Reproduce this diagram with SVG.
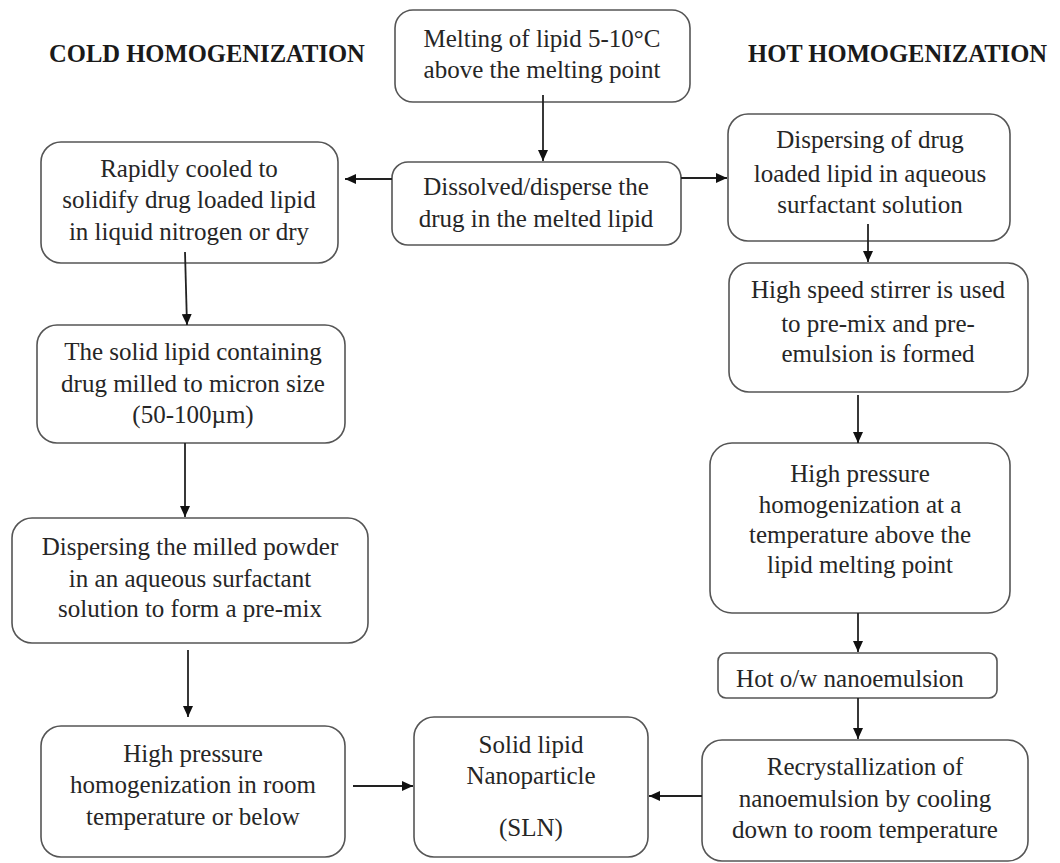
<svg xmlns="http://www.w3.org/2000/svg" width="1060" height="863" viewBox="0 0 1060 863">
<style>
.box{fill:#fff;stroke:#555;stroke-width:1.6}
.t{font-family:"Liberation Serif","Times New Roman",Tinos,"DejaVu Serif",serif;font-size:25px;font-weight:400;fill:#262626;text-anchor:middle}
.h{font-family:"Liberation Serif","Times New Roman",Tinos,"DejaVu Serif",serif;font-size:24.6px;font-weight:bold;fill:#1a1a1a}
.c{stroke:#222;stroke-width:1.8;fill:none;marker-end:url(#ah)}
</style>
<defs>
<marker id="ah" markerUnits="userSpaceOnUse" markerWidth="12" markerHeight="10" refX="11" refY="5" orient="auto">
<path d="M0,0 L11,5 L0,10 z" fill="#111"/>
</marker>
</defs>
<rect width="1060" height="863" fill="#fff"/>
<g id="title-cold"><text class="h" x="49" y="62">COLD HOMOGENIZATION</text></g>
<g id="title-hot"><text class="h" x="748" y="62">HOT HOMOGENIZATION</text></g>

<g id="melting"><rect class="box" x="395" y="10" width="295" height="92" rx="18"/>
<text class="t" x="542" y="47">Melting of lipid 5-10°C</text>
<text class="t" x="542" y="78">above the melting point</text></g>

<g id="dissolved"><rect class="box" x="392" y="162" width="289" height="83" rx="16"/>
<text class="t" x="536" y="195">Dissolved/disperse the</text>
<text class="t" x="536" y="227">drug in the melted lipid</text></g>

<g id="rapidly"><rect class="box" x="41" y="142" width="297" height="121" rx="20"/>
<text class="t" x="189" y="177">Rapidly cooled to</text>
<text class="t" x="189" y="208">solidify drug loaded lipid</text>
<text class="t" x="189" y="240">in liquid nitrogen or dry</text></g>

<g id="solid"><rect class="box" x="37" y="325" width="308" height="118" rx="20"/>
<text class="t" x="193" y="360">The solid lipid containing</text>
<text class="t" x="193" y="392">drug milled to micron size</text>
<text class="t" x="193" y="423">(50-100µm)</text></g>

<g id="dispersing-milled"><rect class="box" x="12" y="518" width="356" height="125" rx="20"/>
<text class="t" x="190" y="555">Dispersing the milled powder</text>
<text class="t" x="190" y="587">in an aqueous surfactant</text>
<text class="t" x="190" y="617">solution to form a pre-mix</text></g>

<g id="hp-cold"><rect class="box" x="41" y="726" width="304" height="131" rx="20"/>
<text class="t" x="193" y="762">High pressure</text>
<text class="t" x="193" y="793">homogenization in room</text>
<text class="t" x="193" y="825">temperature or below</text></g>

<g id="sln"><rect class="box" x="414" y="717" width="234" height="140" rx="20"/>
<text class="t" x="531" y="753">Solid lipid</text>
<text class="t" x="531" y="784">Nanoparticle</text>
<text class="t" x="531" y="836">(SLN)</text></g>

<g id="dispersing-drug"><rect class="box" x="728" y="114" width="282" height="127" rx="20"/>
<text class="t" x="870" y="148">Dispersing of drug</text>
<text class="t" x="870" y="182">loaded lipid in aqueous</text>
<text class="t" x="870" y="213">surfactant solution</text></g>

<g id="stirrer"><rect class="box" x="729" y="263" width="299" height="129" rx="20"/>
<text class="t" x="878" y="298">High speed stirrer is used</text>
<text class="t" x="878" y="332">to pre-mix and pre-</text>
<text class="t" x="878" y="362">emulsion is formed</text></g>

<g id="hp-hot"><rect class="box" x="710" y="443" width="300" height="170" rx="22"/>
<text class="t" x="860" y="482">High pressure</text>
<text class="t" x="860" y="513">homogenization at a</text>
<text class="t" x="860" y="543">temperature above the</text>
<text class="t" x="860" y="573">lipid melting point</text></g>

<g id="nanoemulsion"><rect class="box" x="718" y="653" width="279" height="45" rx="8"/>
<text class="t" x="850" y="687">Hot o/w nanoemulsion</text></g>

<g id="recryst"><rect class="box" x="702" y="740" width="326" height="121" rx="20"/>
<text class="t" x="865" y="775">Recrystallization of</text>
<text class="t" x="865" y="807">nanoemulsion by cooling</text>
<text class="t" x="865" y="838">down to room temperature</text></g>

<g id="connectors">
<line class="c" x1="543" y1="95" x2="543" y2="161"/>
<line class="c" x1="392" y1="179" x2="345" y2="179"/>
<line class="c" x1="681" y1="178" x2="727" y2="178"/>
<line class="c" x1="868" y1="224" x2="868" y2="262"/>
<line class="c" x1="858" y1="395" x2="858" y2="443"/>
<line class="c" x1="858" y1="613" x2="858" y2="652"/>
<line class="c" x1="858" y1="698" x2="858" y2="739"/>
<line class="c" x1="702" y1="796" x2="649" y2="796"/>
<line class="c" x1="185" y1="252" x2="187" y2="325"/>
<line class="c" x1="185" y1="443" x2="185" y2="517"/>
<line class="c" x1="188" y1="650" x2="188" y2="717"/>
<line class="c" x1="353" y1="786" x2="413" y2="786"/>
</g>
</svg>
